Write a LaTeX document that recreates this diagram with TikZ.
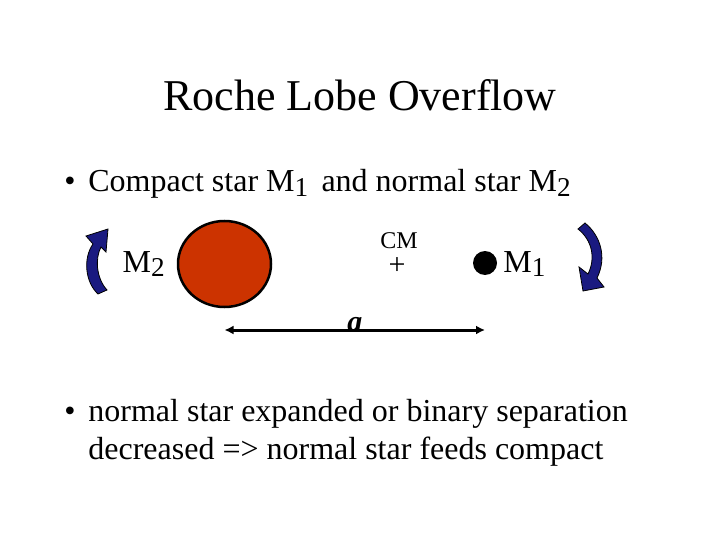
\documentclass[tikz,border=0pt]{standalone}
\usepackage{fontspec}
\setmainfont{Liberation Serif}
\usepackage{graphicx}
\usetikzlibrary{arrows.meta, shapes.geometric, positioning}

\definecolor{starred}{RGB}{204,51,0}
\definecolor{orbitblue}{RGB}{26,26,128}

\newcommand{\lowix}[1]{\raisebox{-0.3ex}{\scalebox{0.85}{#1}}}

\begin{document}
\begin{tikzpicture}[x=1pt, y=-1pt, thick]
        \tikzstyle{txt} = [inner sep=0pt, anchor=base west, font=\fontsize{32}{38}\selectfont]
        \tikzstyle{star} = [ellipse, draw, line width=2.5pt, fill=starred, minimum width=93pt, minimum height=86pt]
        \tikzstyle{turn} = [draw=black, line width=0.8pt, fill=orbitblue]
        \tikzstyle{line} = [draw, line width=3pt, {Latex[length=9pt, width=9pt]}-{Latex[length=9pt, width=9pt]}]

        \useasboundingbox (0,0) rectangle (720,540);

        \node [inner sep=0pt, anchor=base, font=\fontsize{44}{50}\selectfont] (title) at (360,111) {Roche Lobe Overflow};

        \node [txt] (dot1) at (64,192) {\textbullet};
        \node [txt] (item1) at (88,192) {Compact star M\lowix{1}\, and normal star M\lowix{2}};

        \node [star] (normal) at (224.5,264) {};
        \node [txt, anchor=base east] (lbl2) at (165,272) {M\lowix{2}};
        \node [inner sep=0pt, font=\fontsize{24}{26}\selectfont] (cmlbl) at (399,241) {CM};
        \node [inner sep=0pt, font=\fontsize{30}{30}\selectfont, below=8pt of cmlbl, xshift=-2pt] (cm) {+};
        \node [circle, fill=black, minimum size=24pt, inner sep=0pt] (compact) at (485,263) {};
        \node [txt] (lbl1) at (503,272) {M\lowix{1}};

        % orbit arrows
        \path [turn] (98,294) .. controls (85,282) and (83,258) .. (93,244) -- (86,236) -- (108,229)
                -- (106,252) -- (101,247) .. controls (95,258) and (96,278) .. (107,290) -- cycle;
        \path [turn] (578,229) -- (585,223) .. controls (601,236) and (607,258) .. (597,278) -- (604,287)
                -- (583,291) -- (579,267) -- (588,274) .. controls (596,258) and (592,240) .. (578,229) -- cycle;

        % separation
        \coordinate [below=66pt of normal.center] (sepL);
        \coordinate [below=67pt of compact.center] (sepR);
        \path [line] (sepL) -- node [inner sep=0pt, above=-3pt, font=\fontsize{30}{30}\selectfont\bfseries\itshape] (sep) {a} (sepR);

        \node [txt] (dot2) at (64,421) {\textbullet};
        \node [txt] (item2) at (88,421) {normal star expanded or binary separation};
        \node [txt] (item3) at (88,459) {decreased => normal star feeds compact};
    \end{tikzpicture}
\end{document}
